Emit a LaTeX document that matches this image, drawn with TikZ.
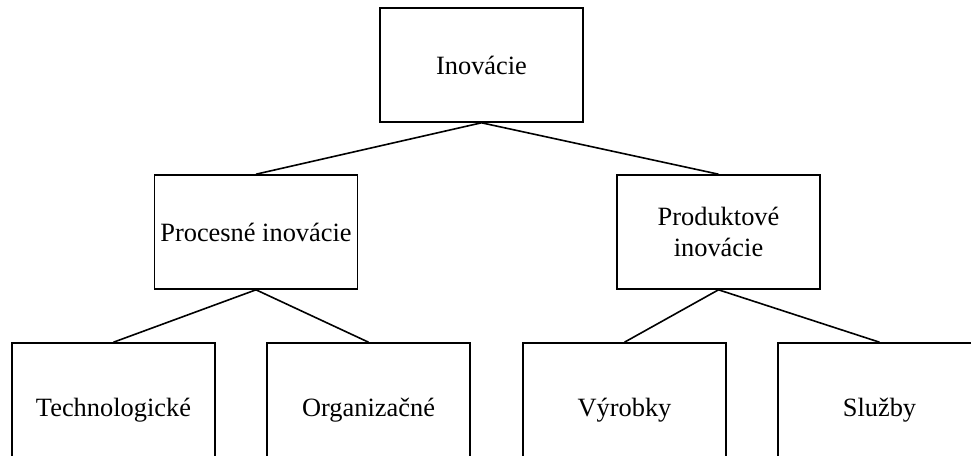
\documentclass[tikz,border=0pt]{standalone}
\usepackage{fontspec}
\setmainfont{Liberation Serif}
\begin{document}
\begin{tikzpicture}[x=1pt,y=-1pt,
  box/.style={draw, line width=1.6pt, minimum width=203pt, minimum height=114pt,
    inner sep=0pt, align=center, font=\fontsize{26.4}{31.5}\selectfont},
  leaf/.style={box, minimum height=134pt},
  link/.style={line width=1.6pt}]
  \useasboundingbox (0,0) rectangle (971,455);
  \clip (0,0) rectangle (971,455);
  % top level
  \node[box] (inov) at (481.5,65) {Inovácie};
  % second level
  \node[box] (proc) at (256,232) {Procesné inovácie};
  \node[box] (prod) at (718.5,232) {Produktové\\inovácie};
  % third level (boxes run past the lower and right edges)
  \node[leaf] (tech) at (113.5,410) {Technologické};
  \node[leaf] (org)  at (368.5,410) {Organizačné};
  \node[leaf] (vyr)  at (624.5,410) {Výrobky};
  \node[leaf] (sluz) at (879.5,410) {Služby};
  % connectors
  \draw[link] (inov.south) -- (proc.north);
  \draw[link] (inov.south) -- (prod.north);
  \draw[link] (proc.south) -- (tech.north);
  \draw[link] (proc.south) -- (org.north);
  \draw[link] (prod.south) -- (vyr.north);
  \draw[link] (prod.south) -- (sluz.north);
\end{tikzpicture}
\end{document}
